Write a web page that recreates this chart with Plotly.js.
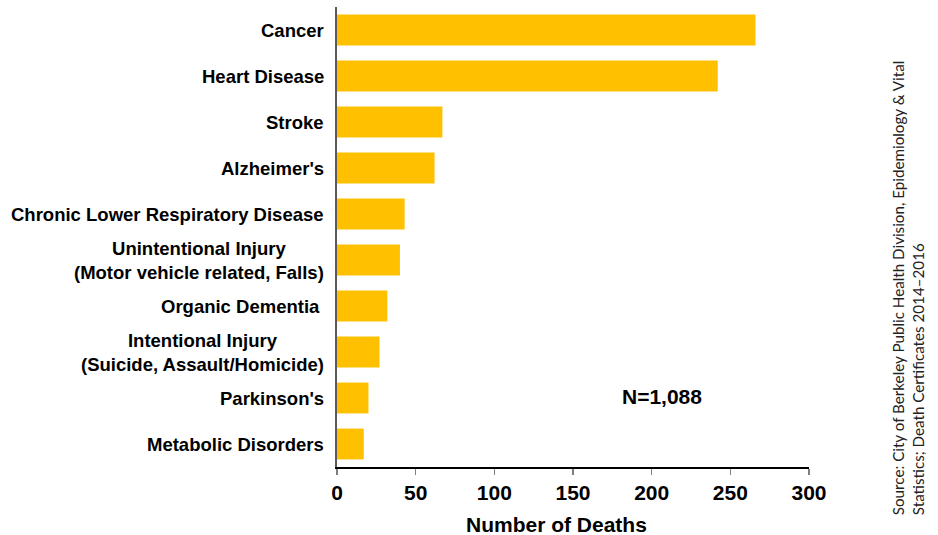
<!DOCTYPE html>
<html>
<head>
<meta charset="utf-8">
<script src="https://cdn.plot.ly/plotly-3.0.1.min.js"></script>
<style>html,body{margin:0;padding:0;background:#fff;}#chart{width:938px;height:535px;}</style>
</head>
<body>
<div id="chart"></div>
<script>
const categories = [
  "Cancer",
  "Heart Disease",
  "Stroke",
  "Alzheimer's",
  "Chronic Lower Respiratory Disease",
  "Unintentional Injury<br>(Motor vehicle related, Falls)",
  "Organic Dementia ",
  "Intentional Injury<br>(Suicide, Assault/Homicide)",
  "Parkinson's",
  "Metabolic Disorders"
];
const deaths = [266, 242, 67, 62, 43, 40, 32, 27, 20, 17];
const xTicks = [0, 50, 100, 150, 200, 250, 300];
const xTitle = "Number of Deaths";
const noteText = "N=1,088";
const sourceText = "Source: City of Berkeley Public Health Division, Epidemiology &amp; Vital<br>Statistics; Death Certificates 2014\u20132016";

const boldFont = {family: "Arial, 'Liberation Sans', sans-serif", color: "#000", weight: "bold"};

const labelAnnotations = categories.map(c => ({
  xref: "paper", yref: "y", x: 0, y: c, xshift: -11,
  xanchor: "right", yanchor: "middle", align: "center",
  text: c, showarrow: false,
  font: Object.assign({}, boldFont, {size: 18.5})
}));

const data = [{
  type: "bar",
  orientation: "h",
  x: deaths,
  y: categories,
  marker: {color: "#FFC000", line: {width: 0}},
  hoverinfo: "x+y"
}];

const layout = {
  width: 938, height: 535,
  margin: {l: 337, r: 129, t: 7, b: 68},
  paper_bgcolor: "#fff", plot_bgcolor: "#fff",
  bargap: 0.33,
  showlegend: false,
  xaxis: {
    range: [0, 300], tickvals: xTicks, ticktext: xTicks.map(String),
    ticks: "outside", ticklen: 6, tickwidth: 1.5, tickcolor: "#7f7f7f",
    showline: true, linecolor: "#000", linewidth: 1.5,
    showgrid: false, zeroline: false,
    tickfont: Object.assign({}, boldFont, {size: 21})
  },
  yaxis: {
    type: "category", autorange: "reversed",
    showticklabels: false, ticks: "",
    showline: true, linecolor: "#595959", linewidth: 2,
    showgrid: false, zeroline: false
  },
  annotations: labelAnnotations.concat([
    {xref: "paper", yref: "paper", x: 0.466, y: -0.126, xanchor: "center", yanchor: "middle",
     text: xTitle, showarrow: false, font: Object.assign({}, boldFont, {size: 21})},
    {xref: "paper", yref: "paper", x: 0.689, y: 0.154, xanchor: "center", yanchor: "middle",
     text: noteText, showarrow: false, font: Object.assign({}, boldFont, {size: 21})},
    {xref: "paper", yref: "paper", x: 1.21, y: 0.389, xanchor: "center", yanchor: "middle",
     textangle: -90, align: "left", text: sourceText, showarrow: false,
     font: {family: "Lato, 'Open Sans', sans-serif", size: 15.2, color: "#222"}}
  ])
};

Plotly.newPlot("chart", data, layout, {displayModeBar: false, staticPlot: true});
</script>
</body>
</html>
